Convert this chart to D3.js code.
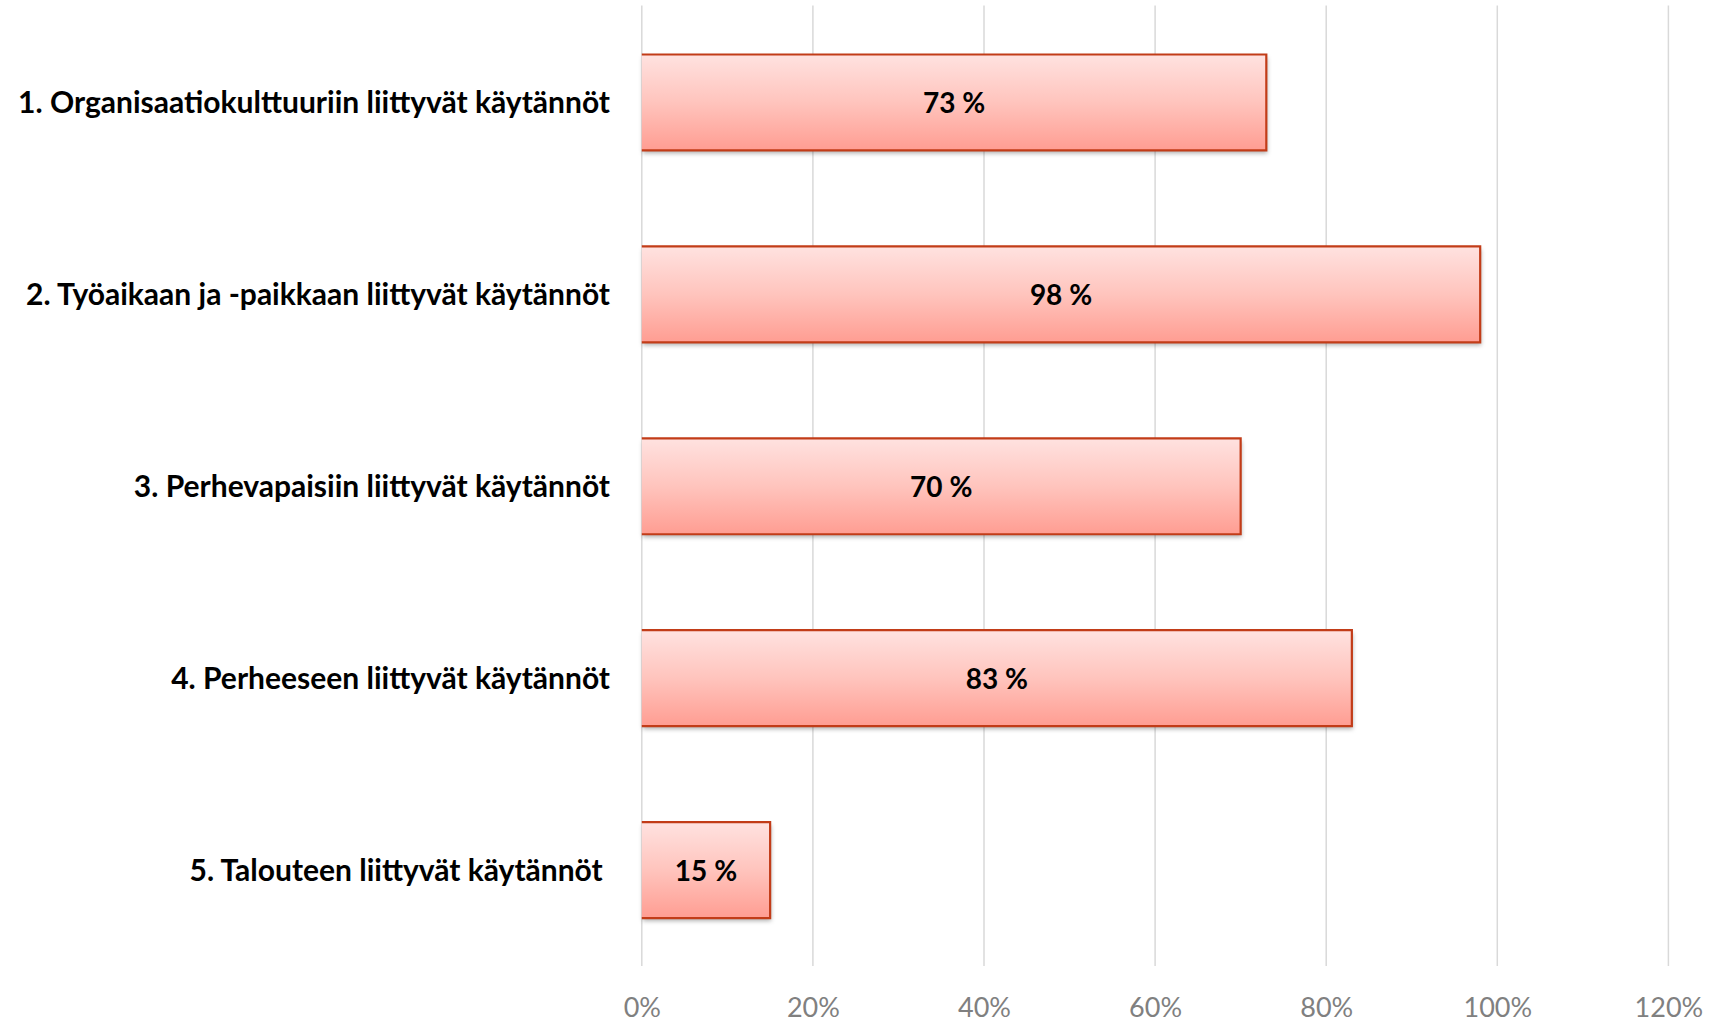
<!DOCTYPE html>
<html>
<head>
<meta charset="utf-8">
<script src="https://cdn.jsdelivr.net/npm/d3@7"></script>
<style>
  body { margin: 0; background: #fff; }
  text { white-space: pre; }
</style>
</head>
<body>
<div id="chart"></div>
<script>
// data
var categories = [
    "1. Organisaatiokulttuuriin liittyvät käytännöt",
    "2. Työaikaan ja -paikkaan liittyvät käytännöt",
    "3. Perhevapaisiin liittyvät käytännöt",
    "4. Perheeseen liittyvät käytännöt",
    "5. Talouteen liittyvät käytännöt "
];
var values = [0.73, 0.98, 0.70, 0.83, 0.15];
var xTicks = [0, 0.2, 0.4, 0.6, 0.8, 1.0, 1.2];

// formatting parameters
var width = 1729;
var height = 1022;
var plot = { left: 641.8, right: 1668.4, top: 6.5, bottom: 966 };

var svg = d3.select("#chart")
    .append("svg")
    .attr("width", width)
    .attr("height", height);

// gradient + shadow for the bars
var defs = svg.append("defs");
var grad = defs.append("linearGradient")
    .attr("id", "barGrad")
    .attr("x1", 0).attr("y1", 0).attr("x2", 0).attr("y2", 1);
grad.append("stop").attr("offset", "0%").attr("stop-color", "#ffe2e0");
grad.append("stop").attr("offset", "50%").attr("stop-color", "#ffc4bd");
grad.append("stop").attr("offset", "100%").attr("stop-color", "#ff9d92");

var shadow = defs.append("filter")
    .attr("id", "shadow")
    .attr("x", "-5%").attr("y", "-20%")
    .attr("width", "110%").attr("height", "150%");
shadow.append("feDropShadow")
    .attr("dx", 1).attr("dy", 3)
    .attr("stdDeviation", 2)
    .attr("flood-color", "#000")
    .attr("flood-opacity", 0.3);

// scales
var x = d3.scaleLinear()
    .domain([0, 1.2])
    .range([plot.left, plot.right]);

var y = d3.scaleBand()
    .domain(categories)
    .range([plot.top, plot.bottom])
    .paddingInner(0.5)
    .paddingOuter(0.25);

// vertical gridlines
svg.append("g")
    .selectAll("line")
    .data(xTicks)
    .enter()
    .append("line")
    .attr("x1", function (d) { return x(d); })
    .attr("x2", function (d) { return x(d); })
    .attr("y1", plot.top - 1)
    .attr("y2", plot.bottom)
    .attr("stroke", "#d9d9d9")
    .attr("stroke-width", 1.5);

// x-axis tick labels
var xAxis = d3.axisBottom(x)
    .tickValues(xTicks)
    .tickSize(0)
    .tickPadding(0)
    .tickFormat(d3.format(".0%"));
var gx = svg.append("g")
    .attr("transform", "translate(0," + 1017 + ")")
    .call(xAxis);
gx.select(".domain").remove();
gx.selectAll("text")
    .attr("dy", 0)
    .attr("y", 0)
    .attr("fill", "#808080")
    .style("font-family", "Lato, 'Open Sans', sans-serif")
    .style("font-size", "27px");

// bars
var bars = svg.append("g").selectAll("g")
    .data(values)
    .enter()
    .append("g");

bars.append("rect")
    .attr("x", x(0))
    .attr("y", function (d, i) { return y(categories[i]); })
    .attr("width", function (d) { return x(d) - x(0); })
    .attr("height", y.bandwidth())
    .attr("fill", "url(#barGrad)")
    .attr("filter", "url(#shadow)");

// border on top, right and bottom only
bars.append("path")
    .attr("d", function (d, i) {
        var y0 = y(categories[i]), y1 = y0 + y.bandwidth();
        return "M" + x(0) + "," + y0 + "H" + x(d) + "V" + y1 + "H" + x(0);
    })
    .attr("fill", "none")
    .attr("stroke", "#c23c18")
    .attr("stroke-width", 2.2);

// value labels
bars.append("text")
    .attr("x", function (d) { return (x(0) + x(d)) / 2; })
    .attr("y", function (d, i) { return y(categories[i]) + y.bandwidth() / 2 + 11; })
    .attr("text-anchor", "middle")
    .style("font-family", "Lato, 'Open Sans', sans-serif")
    .style("font-weight", "bold")
    .style("font-size", "28px")
    .attr("fill", "#000")
    .text(function (d) { return Math.round(d * 100) + " %"; });

// category labels
svg.append("g").selectAll("text")
    .data(categories)
    .enter()
    .append("text")
    .attr("x", 610)
    .attr("y", function (d) { return y(d) + y.bandwidth() / 2 + 11; })
    .attr("text-anchor", "end")
    .style("font-family", "Lato, 'Open Sans', sans-serif")
    .style("font-weight", "bold")
    .style("font-size", "30px")
    .attr("fill", "#000")
    .text(function (d) { return d; });
</script>
</body>
</html>
